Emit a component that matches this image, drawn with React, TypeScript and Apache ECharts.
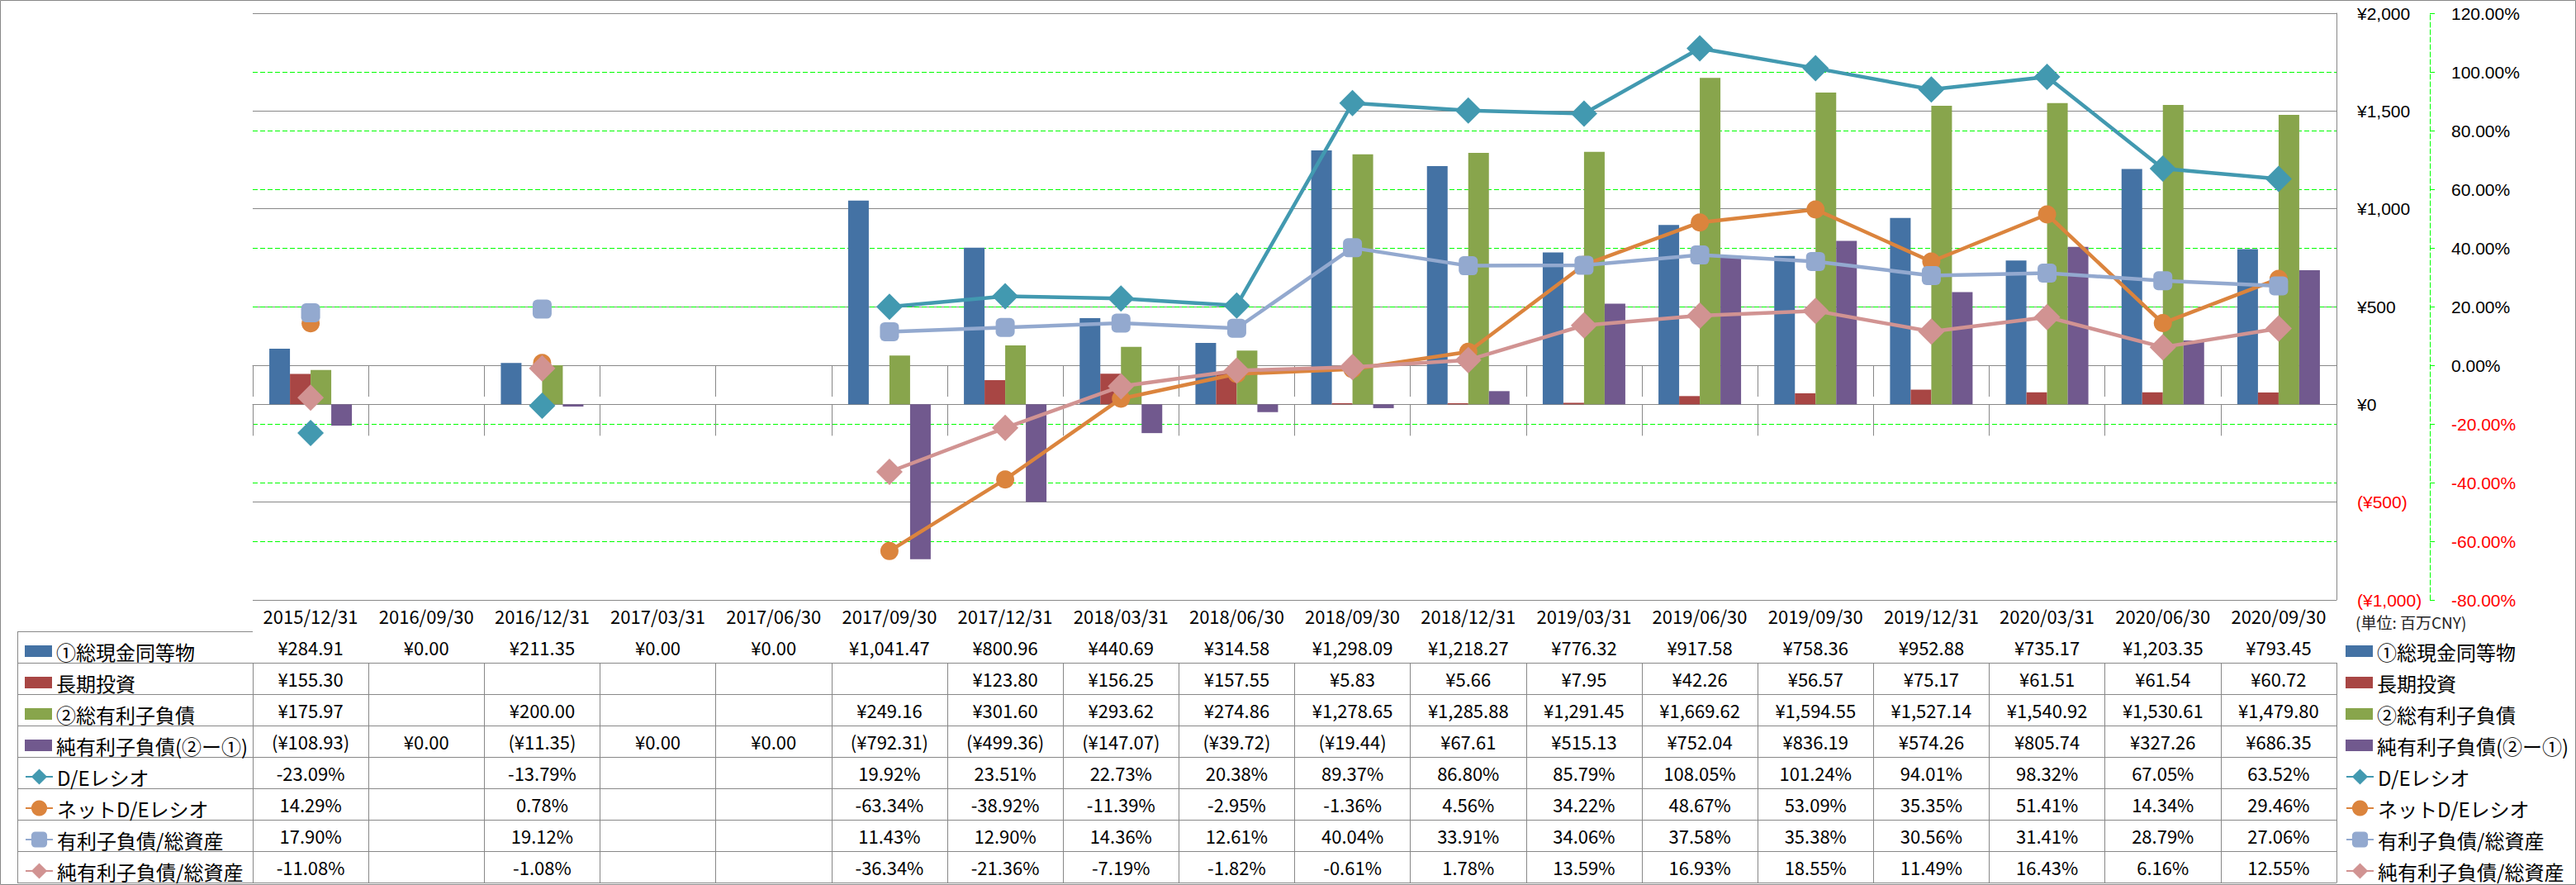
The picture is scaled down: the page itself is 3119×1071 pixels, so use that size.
import React, { useEffect, useRef } from "react";
import * as echarts from "echarts";

// ---------- DATA ----------
const categories = [
  "2015/12/31", "2016/09/30", "2016/12/31", "2017/03/31", "2017/06/30", "2017/09/30",
  "2017/12/31", "2018/03/31", "2018/06/30", "2018/09/30", "2018/12/31", "2019/03/31",
  "2019/06/30", "2019/09/30", "2019/12/31", "2020/03/31", "2020/06/30", "2020/09/30",
];
const cash = [284.91, 0, 211.35, 0, 0, 1041.47, 800.96, 440.69, 314.58, 1298.09, 1218.27, 776.32, 917.58, 758.36, 952.88, 735.17, 1203.35, 793.45];
const longTermInvest = [155.3, null, null, null, null, null, 123.8, 156.25, 157.55, 5.83, 5.66, 7.95, 42.26, 56.57, 75.17, 61.51, 61.54, 60.72];
const totalDebt = [175.97, null, 200.0, null, null, 249.16, 301.6, 293.62, 274.86, 1278.65, 1285.88, 1291.45, 1669.62, 1594.55, 1527.14, 1540.92, 1530.61, 1479.8];
const netDebt = [-108.93, 0, -11.35, 0, 0, -792.31, -499.36, -147.07, -39.72, -19.44, 67.61, 515.13, 752.04, 836.19, 574.26, 805.74, 327.26, 686.35];
const deRatio = [-23.09, null, -13.79, null, null, 19.92, 23.51, 22.73, 20.38, 89.37, 86.8, 85.79, 108.05, 101.24, 94.01, 98.32, 67.05, 63.52];
const netDeRatio = [14.29, null, 0.78, null, null, -63.34, -38.92, -11.39, -2.95, -1.36, 4.56, 34.22, 48.67, 53.09, 35.35, 51.41, 14.34, 29.46];
const debtToAssets = [17.9, null, 19.12, null, null, 11.43, 12.9, 14.36, 12.61, 40.04, 33.91, 34.06, 37.58, 35.38, 30.56, 31.41, 28.79, 27.06];
const netDebtToAssets = [-11.08, null, -1.08, null, null, -36.34, -21.36, -7.19, -1.82, -0.61, 1.78, 13.59, 16.93, 18.55, 11.49, 16.43, 6.16, 12.55];

const barNames = ["①総現金同等物", "長期投資", "②総有利子負債", "純有利子負債(②ー①)"];
const lineNames = ["D/Eレシオ", "ネットD/Eレシオ", "有利子負債/総資産", "純有利子負債/総資産"];
const barData = [cash, longTermInvest, totalDebt, netDebt];
const lineData = [deRatio, netDeRatio, debtToAssets, netDebtToAssets];

const yenMin = -1000, yenMax = 2000, yenStep = 500;
const pctMin = -80, pctMax = 120, pctStep = 20;
const unitLabel = "(単位: 百万CNY)";

// ---------- STYLE ----------
const barColors = ["#4472A4", "#A84644", "#88A54C", "#71598E"];
const lineColors = ["#4299B0", "#DB843D", "#93A9CF", "#D19392"];
const lineSymbols = ["diamond", "circle", "roundRect", "diamond"];
const lineSymbolSizes = [32, 22, 23, 32];

const W = 3119, H = 1071;
const gridLeft = 306, gridRight = 2829, gridTop = 16, gridBottom = 726;
const rowH = 38;
const gray = "#888888";
const green = "#00FF00";
const tableFont = "'Noto Sans CJK JP', 'Noto Sans', sans-serif";
const axisFont = "'Liberation Sans', Arial, sans-serif";

function fmtNum(v: number) {
  const s = v.toFixed(2);
  const [i, d] = s.split(".");
  return i.replace(/\B(?=(\d{3})+(?!\d))/g, ",") + "." + d;
}
function fmtYen(v: number | null) {
  if (v === null || v === undefined) return "";
  return v < 0 ? `(¥${fmtNum(-v)})` : `¥${fmtNum(v)}`;
}
function fmtPct(v: number | null) {
  if (v === null || v === undefined) return "";
  return v.toFixed(2) + "%";
}
function fmtYenAxis(v: number) {
  const a = Math.abs(v).toString().replace(/\B(?=(\d{3})+(?!\d))/g, ",");
  return v < 0 ? `(¥${a})` : `¥${a}`;
}

const tableRows: string[][] = [
  ...barData.map((arr) => arr.map(fmtYen)),
  ...lineData.map((arr) => arr.map(fmtPct)),
];

export default function App() {
  const ref = useRef<HTMLDivElement>(null);
  useEffect(() => {
    if (!ref.current) return;
    const chart = echarts.init(ref.current, undefined, { renderer: "svg", width: W, height: H });

    const xAxes: any[] = [];
    // header row + 8 data rows + closing line
    for (let k = 0; k <= 9; k++) {
      const isLast = k === 9;
      xAxes.push({
        type: "category",
        data: categories,
        position: "bottom",
        offset: rowH * k,
        gridIndex: 0,
        axisLine: { show: true, lineStyle: { color: gray, width: 1 } },
        axisTick: {
          show: !isLast,
          interval: 0,
          alignWithLabel: false,
          inside: false,
          length: rowH,
          lineStyle: { color: gray, width: 1 },
        },
        axisLabel: {
          show: !isLast,
          interval: 0,
          margin: 19,
          verticalAlign: "middle",
          fontSize: 22,
          fontFamily: tableFont,
          color: "#000",
          formatter: (val: string, idx: number) => (k === 0 ? val : tableRows[k - 1][idx]),
        },
        splitLine: { show: false },
      });
    }

    const series: any[] = [];
    barNames.forEach((name, i) => {
      series.push({
        name,
        type: "bar",
        xAxisIndex: 0,
        yAxisIndex: 0,
        data: barData[i],
        barWidth: 25,
        barGap: "0%",
        itemStyle: { color: barColors[i] },
        z: 2,
      });
    });
    lineNames.forEach((name, i) => {
      series.push({
        name,
        type: "line",
        xAxisIndex: 0,
        yAxisIndex: 1,
        data: lineData[i],
        connectNulls: false,
        symbol: lineSymbols[i],
        symbolSize: lineSymbolSizes[i],
        showAllSymbol: true,
        lineStyle: { color: lineColors[i], width: 4.5 },
        itemStyle: { color: lineColors[i] },
        z: 3 + i,
      });
    });

    const legendCommon = {
      orient: "vertical",
      selectedMode: false,
      itemWidth: 33,
      itemGap: 14,
      textStyle: { fontSize: 24, fontFamily: tableFont, color: "#000", lineHeight: 24 },
    };
    const barLegendTop = gridBottom + rowH + rowH / 2 - 12;
    const lineLegendTop = gridBottom + rowH * 5 + rowH / 2 - 12;
    const legends: any[] = [];
    [25, 2835].forEach((lx) => {
      legends.push({
        ...legendCommon,
        left: lx,
        top: barLegendTop,
        itemHeight: 14,
        data: barNames.map((n) => ({ name: n, icon: "rect" })),
      });
      legends.push({
        ...legendCommon,
        left: lx,
        top: lineLegendTop,
        itemHeight: 24,
        data: lineNames,
      });
    });

    const tableLeftLines: any[] = [];
    for (let j = 0; j <= 8; j++) {
      const y = gridBottom + rowH * (j + 1) + 0.5;
      tableLeftLines.push({
        type: "line",
        shape: { x1: 21, y1: y, x2: gridLeft, y2: y },
        style: { stroke: gray, lineWidth: 1 },
        silent: true,
      });
    }
    tableLeftLines.push({
      type: "line",
      shape: { x1: 21.5, y1: gridBottom + rowH, x2: 21.5, y2: gridBottom + rowH * 9 },
      style: { stroke: gray, lineWidth: 1 },
      silent: true,
    });

    const option: any = {
      animation: false,
      backgroundColor: "#fff",
      grid: {
        left: gridLeft,
        top: gridTop,
        width: gridRight - gridLeft,
        height: gridBottom - gridTop,
        containLabel: false,
      },
      xAxis: xAxes,
      yAxis: [
        {
          type: "value",
          position: "right",
          min: yenMin,
          max: yenMax,
          interval: yenStep,
          axisLine: { show: true, lineStyle: { color: gray, width: 1 } },
          axisTick: { show: false },
          axisLabel: {
            margin: 25,
            fontSize: 21,
            fontFamily: axisFont,
            formatter: (v: number) => fmtYenAxis(v),
            color: (v: any) => (Number(v) < 0 ? "#FF0000" : "#000"),
          },
          splitLine: { show: true, lineStyle: { color: gray, width: 1 } },
        },
        {
          type: "value",
          position: "right",
          offset: 113,
          min: pctMin,
          max: pctMax,
          interval: pctStep,
          axisLine: { show: true, lineStyle: { color: green, width: 1, type: [6, 3] } },
          axisTick: { show: true, inside: false, length: 8, lineStyle: { color: green, width: 1, type: [6, 3] } },
          axisLabel: {
            margin: 26,
            fontSize: 21,
            fontFamily: axisFont,
            formatter: (v: number) => v.toFixed(2) + "%",
            color: (v: any) => (Number(v) < 0 ? "#FF0000" : "#000"),
          },
          splitLine: {
            show: true,
            showMinLine: false,
            showMaxLine: false,
            lineStyle: { color: green, width: 1, type: [6, 3] },
          },
        },
      ],
      legend: legends,
      series,
      graphic: [
        {
          type: "rect",
          shape: { x: 0.5, y: 0.5, width: W - 1, height: H - 1 },
          style: { fill: "none", stroke: gray, lineWidth: 1 },
          silent: true,
          z: -10,
        },
        ...tableLeftLines,
        {
          type: "text",
          left: 2852,
          top: 743,
          style: { text: unitLabel, fontSize: 19, fontFamily: tableFont, fill: "#222" },
          silent: true,
        },
      ],
    };

    chart.setOption(option);
    return () => chart.dispose();
  }, []);

  return (
    <div
      ref={ref}
      style={{ position: "fixed", left: 0, top: 0, width: W, height: H, background: "#fff" }}
    />
  );
}
